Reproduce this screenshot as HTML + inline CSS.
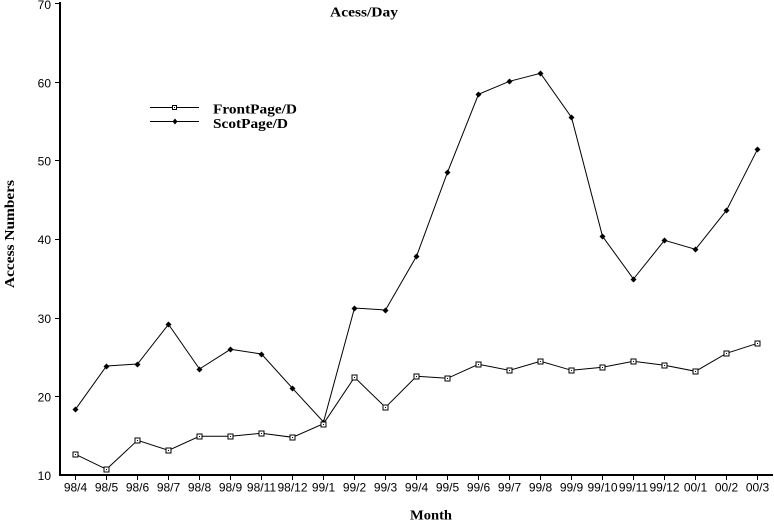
<!DOCTYPE html>
<html>
<head>
<meta charset="utf-8">
<style>
html,body{margin:0;padding:0;background:#fff;}
svg{display:block;}
.tk{font-family:"Liberation Sans",sans-serif;font-size:12px;fill:#000;}
.sb{font-family:"Liberation Serif",serif;font-weight:bold;font-size:14px;fill:#000;}
</style>
</head>
<body>
<svg width="774" height="520" viewBox="0 0 774 520" xmlns="http://www.w3.org/2000/svg">
<rect width="774" height="520" fill="#fff"/>
<!-- axes -->
<line x1="60" y1="2" x2="60" y2="476" stroke="#000" stroke-width="2"/>
<line x1="59" y1="475" x2="773" y2="475" stroke="#000" stroke-width="2"/>
<!-- y ticks -->
<g stroke="#000" stroke-width="1">
<line x1="55" y1="3.5" x2="60" y2="3.5"/>
<line x1="55" y1="82.5" x2="60" y2="82.5"/>
<line x1="55" y1="160.5" x2="60" y2="160.5"/>
<line x1="55" y1="239.5" x2="60" y2="239.5"/>
<line x1="55" y1="318.5" x2="60" y2="318.5"/>
<line x1="55" y1="396.5" x2="60" y2="396.5"/>
</g>
<g class="tk" text-anchor="end">
<text x="51" y="9">70</text>
<text x="51" y="87.5">60</text>
<text x="51" y="165.5">50</text>
<text x="51" y="244">40</text>
<text x="51" y="323">30</text>
<text x="51" y="401.5">20</text>
<text x="51" y="480">10</text>
</g>
<!-- x ticks -->
<g stroke="#000" stroke-width="1" id="xt"></g>
<g class="tk" text-anchor="middle" id="xl"></g>
<!-- series -->
<g id="series"></g>
<!-- titles -->
<text class="sb" x="330" y="16.5" textLength="68" lengthAdjust="spacingAndGlyphs">Acess/Day</text>
<text class="sb" x="410" y="519.5" textLength="42" lengthAdjust="spacingAndGlyphs">Month</text>
<text class="sb" transform="translate(14,288) rotate(-90)" x="0" y="0" textLength="108" lengthAdjust="spacingAndGlyphs">Access Numbers</text>
<!-- legend -->
<line x1="150" y1="107.5" x2="199" y2="107.5" stroke="#000" stroke-width="1"/>
<rect x="172.5" y="105.5" width="4" height="4" fill="#fff" stroke="#000" stroke-width="1"/>
<rect x="174" y="107" width="1" height="1" fill="#000"/>
<line x1="150" y1="121.5" x2="199" y2="121.5" stroke="#000" stroke-width="1"/>
<path d="M175 118.5 L177.5 121.5 L175 124.5 L172.5 121.5 Z" fill="#000"/>
<text class="sb" x="213" y="113.5" textLength="84" lengthAdjust="spacingAndGlyphs">FrontPage/D</text>
<text class="sb" x="213" y="128" textLength="75" lengthAdjust="spacingAndGlyphs">ScotPage/D</text>
</svg>
<script>
(function(){
var NS="http://www.w3.org/2000/svg";
var labels=["98/4","98/5","98/6","98/7","98/8","98/9","98/11","98/12","99/1","99/2","99/3","99/4","99/5","99/6","99/7","99/8","99/9","99/10","99/11","99/12","00/1","00/2","00/3"];
var scot=[409.3,366,364,324.3,369,349.3,354,388.3,422,308,310,256.3,172.3,94.3,81.3,73.3,117.3,236.3,279,240.3,249.3,210.3,149.3];
var front=[454.3,469.3,440.3,450.3,436.3,436.3,433.3,437.3,423.7,377.3,407.3,376.3,378.3,364.3,370.3,361.3,370.3,367.3,361.3,365.3,371.3,353.3,343.3];
var xt=document.getElementById("xt"),xl=document.getElementById("xl"),sg=document.getElementById("series");
function el(n,a,p){var e=document.createElementNS(NS,n);for(var k in a)e.setAttribute(k,a[k]);p.appendChild(e);return e;}
var px=[];
for(var i=0;i<labels.length;i++){
  var x=75+31*i;px.push(x);
  el("line",{x1:x+0.5,y1:475,x2:x+0.5,y2:480},xt);
  var t=el("text",{x:x+0.5,y:491.5},xl);t.textContent=labels[i];
}
function pts(arr){return arr.map(function(y,i){return (px[i]+0.5)+","+y;}).join(" ");}
el("polyline",{points:pts(scot),fill:"none",stroke:"#000","stroke-width":1},sg);
el("polyline",{points:pts(front),fill:"none",stroke:"#000","stroke-width":1},sg);
for(var j=0;j<px.length;j++){
  var cx=px[j]+0.5,cy=Math.round(scot[j])+0.5;
  el("path",{d:"M"+cx+" "+(cy-3)+" L"+(cx+3)+" "+cy+" L"+cx+" "+(cy+3)+" L"+(cx-3)+" "+cy+" Z",fill:"#000"},sg);
  el("rect",{x:cx-1.5,y:cy-1.5,width:3,height:3,fill:"#000"},sg);
  var fy=Math.round(front[j])+0.5;
  el("rect",{x:cx-2.5,y:fy-2.5,width:5,height:5,fill:"#fff",stroke:"#000","stroke-width":1},sg);
  el("rect",{x:cx-0.5,y:fy-0.5,width:1,height:1,fill:"#000"},sg);
}
})();
</script>
</body>
</html>
